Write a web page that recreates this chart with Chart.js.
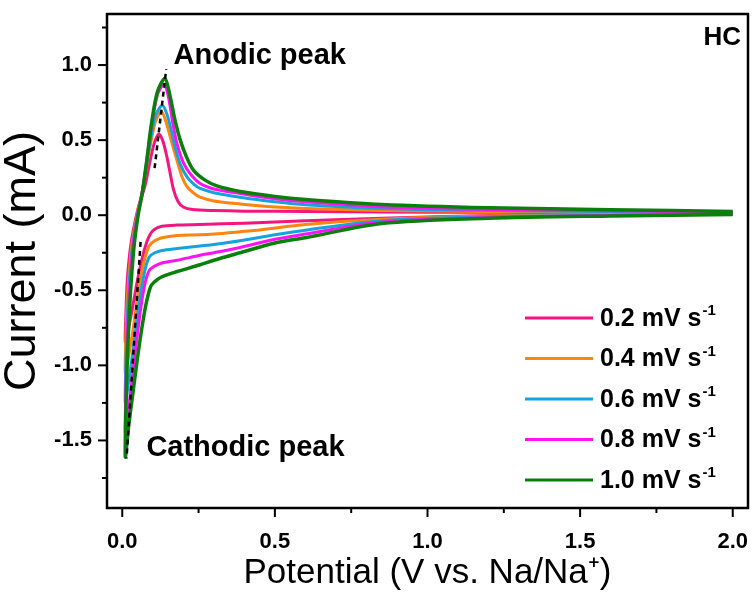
<!DOCTYPE html>
<html>
<head>
<meta charset="utf-8">
<script src="https://cdn.jsdelivr.net/npm/chart.js@4.4.1/dist/chart.umd.min.js"></script>
<style>
  html, body { margin: 0; padding: 0; background: #fff; }
</style>
</head>
<body>
<canvas id="cv-chart" width="753" height="593"></canvas>
<script>
// scan rates (mV s-1) and line colours
const rates = ["0.2", "0.4", "0.6", "0.8", "1.0"];
const colors = ["#f5157f", "#ff8411", "#14a3dc", "#fb14f0", "#0b7f0b"];

// each loop: cathodic sweep 2.0 V -> 0.01 V, then anodic sweep back to 2.0 V
const potential02 = [2.0, 1.6, 1.2, 0.85, 0.6, 0.4, 0.255, 0.18, 0.13, 0.105, 0.092, 0.08, 0.066, 0.05, 0.035, 0.02, 0.01,
  0.012, 0.016, 0.022, 0.03, 0.04, 0.05, 0.06, 0.075, 0.092, 0.105, 0.119, 0.132, 0.145, 0.155, 0.168, 0.183, 0.2, 0.23, 0.3, 0.4, 0.6, 0.85, 1.2, 1.6, 2.0];
const current02 = [0.008, 0.004, -0.002, -0.02, -0.037, -0.053, -0.062, -0.066, -0.074, -0.095, -0.125, -0.18, -0.28, -0.43, -0.6, -0.76, -0.845,
  -0.65, -0.45, -0.3, -0.17, -0.06, 0.03, 0.1, 0.2, 0.37, 0.48, 0.54, 0.5, 0.4, 0.3, 0.17, 0.09, 0.055, 0.038, 0.031, 0.027, 0.025, 0.022, 0.019, 0.017, 0.015];

const potential04 = [2.0, 1.6, 1.2, 0.85, 0.6, 0.45, 0.386, 0.3, 0.255, 0.18, 0.13, 0.105, 0.088, 0.075, 0.062, 0.048, 0.034, 0.02, 0.01,
  0.012, 0.016, 0.022, 0.03, 0.04, 0.052, 0.065, 0.08, 0.095, 0.11, 0.128, 0.142, 0.16, 0.179, 0.195, 0.212, 0.235, 0.255, 0.3, 0.386, 0.5, 0.6, 0.85, 1.2, 1.6, 2.0];
const current04 = [0.008, 0.002, -0.006, -0.027, -0.062, -0.098, -0.11, -0.125, -0.13, -0.135, -0.15, -0.172, -0.205, -0.28, -0.4, -0.58, -0.78, -0.95, -1.05,
  -0.8, -0.58, -0.4, -0.22, -0.09, 0.04, 0.15, 0.33, 0.5, 0.63, 0.69, 0.63, 0.5, 0.367, 0.26, 0.19, 0.145, 0.12, 0.095, 0.075, 0.055, 0.045, 0.032, 0.025, 0.02, 0.016];

const potential06 = [2.0, 1.6, 1.2, 0.85, 0.6, 0.5, 0.386, 0.3, 0.255, 0.18, 0.13, 0.105, 0.088, 0.075, 0.062, 0.048, 0.034, 0.02, 0.01,
  0.012, 0.016, 0.022, 0.03, 0.04, 0.052, 0.065, 0.08, 0.095, 0.11, 0.131, 0.145, 0.16, 0.173, 0.19, 0.212, 0.235, 0.255, 0.3, 0.386, 0.5, 0.6, 0.85, 1.2, 1.6, 2.0];
const current06 = [0.008, 0.0, -0.01, -0.037, -0.1, -0.13, -0.17, -0.195, -0.205, -0.222, -0.235, -0.252, -0.28, -0.36, -0.5, -0.7, -0.92, -1.12, -1.25,
  -0.98, -0.72, -0.48, -0.27, -0.11, 0.03, 0.15, 0.34, 0.53, 0.67, 0.73, 0.68, 0.57, 0.455, 0.34, 0.255, 0.205, 0.178, 0.15, 0.12, 0.09, 0.07, 0.045, 0.032, 0.025, 0.018];

const potential08 = [2.0, 1.6, 1.2, 0.85, 0.6, 0.5, 0.386, 0.3, 0.255, 0.18, 0.13, 0.105, 0.088, 0.075, 0.062, 0.048, 0.034, 0.02, 0.01,
  0.012, 0.016, 0.022, 0.03, 0.04, 0.052, 0.065, 0.08, 0.095, 0.115, 0.136, 0.15, 0.165, 0.179, 0.2, 0.222, 0.255, 0.3, 0.386, 0.5, 0.6, 0.85, 1.2, 1.6, 2.0];
const current08 = [0.006, -0.002, -0.015, -0.045, -0.125, -0.16, -0.215, -0.25, -0.267, -0.3, -0.318, -0.34, -0.37, -0.45, -0.6, -0.82, -1.06, -1.3, -1.45,
  -1.15, -0.85, -0.57, -0.32, -0.13, 0.02, 0.15, 0.36, 0.58, 0.8, 0.87, 0.8, 0.62, 0.478, 0.35, 0.278, 0.211, 0.175, 0.145, 0.11, 0.09, 0.057, 0.038, 0.029, 0.02];

const potential10 = [2.0, 1.6, 1.2, 0.85, 0.6, 0.5, 0.386, 0.3, 0.255, 0.18, 0.13, 0.105, 0.092, 0.077, 0.062, 0.048, 0.034, 0.02, 0.01,
  0.012, 0.016, 0.022, 0.03, 0.04, 0.052, 0.065, 0.08, 0.095, 0.115, 0.14, 0.157, 0.172, 0.19, 0.21, 0.233, 0.27, 0.31, 0.386, 0.5, 0.6, 0.85, 1.2, 1.6, 2.0];
const current10 = [0.005, -0.005, -0.02, -0.055, -0.15, -0.185, -0.25, -0.3, -0.33, -0.375, -0.41, -0.445, -0.48, -0.6, -0.78, -0.98, -1.2, -1.42, -1.61,
  -1.3, -1.0, -0.7, -0.42, -0.18, 0.0, 0.14, 0.36, 0.6, 0.82, 0.91, 0.79, 0.64, 0.5, 0.39, 0.3, 0.235, 0.195, 0.158, 0.125, 0.105, 0.072, 0.05, 0.037, 0.025];

// dashed guide lines through the peaks
const anodicGuideV = [0.106, 0.144];
const anodicGuideI = [0.313, 0.973];
const cathodicGuideV = [0.06, 0.014];
const cathodicGuideI = [-0.178, -1.62];

// axes
const xTicks = [0.0, 0.5, 1.0, 1.5, 2.0];
const xMinorTicks = [0.25, 0.75, 1.25, 1.75];
const yTicks = [-1.5, -1.0, -0.5, 0.0, 0.5, 1.0];
const yMinorTicks = [-1.75, -1.25, -0.75, -0.25, 0.25, 0.75, 1.25];

const potentials = [potential02, potential04, potential06, potential08, potential10];
const currents = [current02, current04, current06, current08, current10];

const toPoints = (xs, ys) => xs.map((x, j) => ({ x: x, y: ys[j] }));

const FONT = "'Liberation Sans', Arial, sans-serif";

const datasets = rates.map((rate, k) => ({
  label: rate + " mV s-1",
  data: toPoints(potentials[k], currents[k]),
  borderColor: colors[k],
  borderWidth: k === 4 ? 3.5 : 3,
  pointRadius: 0,
  showLine: true,
  fill: false,
  tension: 0.3,
  order: 5 - k,
}));

[[anodicGuideV, anodicGuideI], [cathodicGuideV, cathodicGuideI]].forEach(([vs, is]) => {
  datasets.push({
    label: "",
    data: toPoints(vs, is),
    borderColor: "#000",
    borderWidth: 2.5,
    borderDash: [5, 4],
    pointRadius: 0,
    showLine: true,
    fill: false,
    order: -1,
  });
});

const decorPlugin = {
  id: "decor",
  afterDraw(chart) {
    const { ctx, chartArea: a, scales } = chart;
    const x = scales.x, y = scales.y;
    ctx.save();

    // frame
    ctx.strokeStyle = "#000";
    ctx.lineWidth = 2.5;
    ctx.strokeRect(a.left, a.top, a.right - a.left, a.bottom - a.top);

    // tick marks, outside
    const seg = (x1, y1, x2, y2) => { ctx.beginPath(); ctx.moveTo(x1, y1); ctx.lineTo(x2, y2); ctx.stroke(); };
    ctx.lineWidth = 2;
    xTicks.forEach(v => { const p = x.getPixelForValue(v); seg(p, a.bottom, p, a.bottom + 9); });
    xMinorTicks.forEach(v => { const p = x.getPixelForValue(v); seg(p, a.bottom, p, a.bottom + 5); });
    yTicks.forEach(v => { const p = y.getPixelForValue(v); seg(a.left, p, a.left - 9, p); });
    yMinorTicks.forEach(v => { const p = y.getPixelForValue(v); seg(a.left, p, a.left - 5, p); });

    // annotations
    ctx.fillStyle = "#000";
    ctx.textBaseline = "middle";
    ctx.textAlign = "left";
    ctx.font = "bold 29px " + FONT;
    ctx.fillText("Anodic peak", x.getPixelForValue(0.168), y.getPixelForValue(1.06));
    ctx.fillText("Cathodic peak", x.getPixelForValue(0.079), y.getPixelForValue(-1.55));
    ctx.textAlign = "right";
    ctx.font = "bold 26px " + FONT;
    ctx.fillText("HC", a.right - 7, a.top + 24);

    // legend
    ctx.textAlign = "left";
    rates.forEach((rate, k) => {
      const ly = 318 + k * 40.5;
      ctx.strokeStyle = colors[k];
      ctx.lineWidth = 3;
      seg(525, ly, 593, ly);
      ctx.font = "bold 25px " + FONT;
      const main = rate + " mV s";
      ctx.fillText(main, 600, ly + 1);
      const w = ctx.measureText(main).width;
      ctx.font = "bold 15px " + FONT;
      ctx.fillText("-1", 600 + w + 1, ly - 7);
    });

    ctx.restore();
  },
};

new Chart(document.getElementById("cv-chart"), {
  type: "scatter",
  data: { datasets: datasets },
  options: {
    responsive: false,
    animation: false,
    devicePixelRatio: 1,
    layout: { padding: { top: 14, right: 5, left: 0, bottom: 0 } },
    plugins: {
      legend: { display: false },
      tooltip: { enabled: false },
    },
    scales: {
      x: {
        type: "linear",
        min: -0.05,
        max: 2.05,
        afterFit: (s) => { s.height = 85; s.paddingLeft = 0; s.paddingRight = 0; },
        afterBuildTicks: (s) => { s.ticks = xTicks.map(v => ({ value: v })); },
        grid: { display: false, drawTicks: false },
        border: { display: false },
        ticks: {
          padding: 21,
          color: "#000",
          font: { family: FONT, size: 22, weight: "bold" },
          callback: (v) => Number(v).toFixed(1),
        },
        title: {
          display: true,
          text: "Potential (V vs. Na/Na⁺)",
          color: "#000",
          font: { family: FONT, size: 35, lineHeight: 1 },
          padding: { top: 0, bottom: 2 },
        },
      },
      y: {
        type: "linear",
        min: -1.95,
        max: 1.34,
        afterFit: (s) => { s.width = 107; s.paddingTop = 0; s.paddingBottom = 0; },
        afterBuildTicks: (s) => { s.ticks = yTicks.map(v => ({ value: v })); },
        grid: { display: false, drawTicks: false },
        border: { display: false },
        ticks: {
          padding: 15,
          color: "#000",
          font: { family: FONT, size: 22, weight: "bold" },
          callback: (v) => Number(v).toFixed(1),
        },
        title: {
          display: true,
          text: "Current (mA)",
          color: "#000",
          font: { family: FONT, size: 45, lineHeight: 1 },
          padding: { top: 0, bottom: 0 },
        },
      },
    },
  },
  plugins: [decorPlugin],
});
</script>
</body>
</html>
